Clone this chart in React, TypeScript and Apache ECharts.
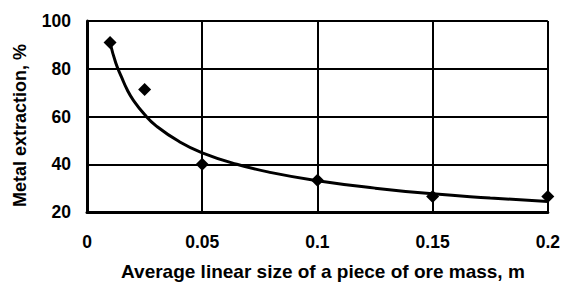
import React, { useEffect, useRef } from "react";
import * as echarts from "echarts";

// Measured points (x = average linear size, m; y = metal extraction, %)
const sizeX = [0.01, 0.025, 0.05, 0.1, 0.15, 0.2];
const extractionY = [91, 71.3, 40, 33.3, 26.5, 26.5];

// Trend curve
const trendX = [0.01, 0.0125, 0.015, 0.0175, 0.02, 0.025, 0.03, 0.04, 0.05, 0.065, 0.08, 0.1, 0.125, 0.15, 0.175, 0.2];
const trendY = [91, 82.4, 76.5, 71.1, 67.0, 60.8, 56.1, 49.5, 44.8, 40.0, 36.5, 33.1, 30.0, 27.6, 25.9, 24.4];

const xTitle = "Average linear size of a piece of ore mass, m";
const yTitle = "Metal extraction, %";

export default function App() {
  const ref = useRef<HTMLDivElement>(null);
  useEffect(() => {
    if (!ref.current) return;
    const chart = echarts.init(ref.current, null, { renderer: "svg" });
    const font = "'Liberation Sans', Arial, sans-serif";
    chart.setOption({
      animation: false,
      backgroundColor: "#ffffff",
      grid: { left: 87, right: 14, top: 21, bottom: 71, containLabel: false },
      xAxis: {
        type: "value",
        min: 0,
        max: 0.2,
        interval: 0.05,
        name: xTitle,
        nameLocation: "middle",
        nameGap: 50,
        nameTextStyle: { fontFamily: font, fontWeight: "bold", fontSize: 19, color: "#000", padding: [0, 0, 0, 11] },
        axisLine: { show: true, onZero: false, lineStyle: { color: "#000", width: 3 } },
        axisTick: { show: false },
        axisLabel: { margin: 21, fontFamily: font, fontWeight: "bold", fontSize: 17.5, color: "#000" },
        splitLine: { show: true, lineStyle: { color: "#000", width: 2 } },
      },
      yAxis: {
        type: "value",
        min: 20,
        max: 100,
        interval: 20,
        name: yTitle,
        nameLocation: "middle",
        nameGap: 58,
        nameRotate: 90,
        nameTextStyle: { fontFamily: font, fontWeight: "bold", fontSize: 18, color: "#000", padding: [0, 18, 0, 0] },
        axisLine: { show: true, lineStyle: { color: "#000", width: 3 } },
        axisTick: { show: false },
        axisLabel: { margin: 16, fontFamily: font, fontWeight: "bold", fontSize: 17.5, color: "#000" },
        splitLine: { show: true, lineStyle: { color: "#000", width: 2 } },
      },
      series: [
        {
          type: "line",
          data: trendX.map((x, i) => [x, trendY[i]]),
          smooth: true,
          showSymbol: false,
          symbol: "none",
          lineStyle: { color: "#000", width: 3 },
          z: 3,
        },
        {
          type: "scatter",
          data: sizeX.map((x, i) => [x, extractionY[i]]),
          symbol: "diamond",
          symbolSize: 13,
          itemStyle: { color: "#000", opacity: 1 },
          z: 4,
        },
      ],
    });
    return () => chart.dispose();
  }, []);
  return (
    <div style={{ position: "fixed", left: 0, top: 0, width: 563, height: 286, background: "#fff" }}>
      <div ref={ref} style={{ width: 563, height: 286 }} />
    </div>
  );
}
